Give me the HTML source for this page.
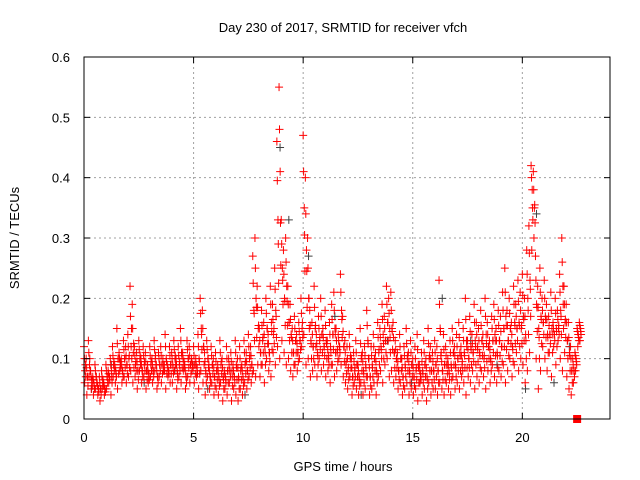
<!DOCTYPE html>
<html><head><meta charset="utf-8"><style>
html,body{margin:0;padding:0;background:#fff;}
svg{display:block;font-family:"Liberation Sans",sans-serif;}
</style></head><body>
<svg id="chart" width="640" height="480" viewBox="0 0 640 480">
<rect width="640" height="480" fill="#fff"/>
<text x="343" y="32" font-size="13" text-anchor="middle">Day 230 of 2017, SRMTID for receiver vfch</text>
<text transform="translate(19,238) rotate(-90)" font-size="13" text-anchor="middle">SRMTID / TECUs</text>
<text x="343" y="471" font-size="13" text-anchor="middle">GPS time / hours</text>
<g id="grid"></g>
<g id="marks-gray"></g>
<g id="marks"></g>
<g id="axes"></g>
</svg>
<script>
const xTicks=[0,5,10,15,20];
const yTicks=[0,0.1,0.2,0.3,0.4,0.5,0.6];
const yTickLabels=["0","0.1","0.2","0.3","0.4","0.5","0.6"];
const step=0.1;
const seriesHigh=[.12,.10,.13,.08,.07,.09,.06,.07,.08,.06,
.09,.08,.10,.12,.09,.15,.11,.10,.13,.12,
.14,.22,.19,.12,.11,.13,.10,.12,.11,.09,
.12,.10,.13,.09,.11,.12,.10,.14,.09,.12,
.11,.13,.10,.12,.15,.11,.09,.13,.12,.10,
.12,.10,.14,.20,.18,.11,.13,.09,.12,.10,
.11,.09,.13,.10,.08,.12,.10,.11,.09,.13,
.10,.12,.09,.13,.11,.14,.12,.27,.30,.22,
.15,.18,.16,.20,.14,.22,.19,.25,.46,.55,
.33,.28,.30,.22,.19,.15,.17,.14,.16,.20,
.47,.40,.30,.18,.16,.22,.14,.17,.20,.15,
.18,.13,.16,.19,.21,.15,.14,.24,.17,.13,
.12,.14,.10,.11,.13,.09,.15,.11,.12,.18,
.10,.12,.14,.11,.16,.15,.19,.17,.22,.20,
.21,.16,.13,.11,.14,.10,.12,.15,.11,.13,
.10,.12,.14,.09,.11,.13,.10,.15,.12,.11,
.13,.12,.23,.11,.14,.12,.10,.13,.15,.12,
.14,.16,.12,.15,.20,.13,.17,.14,.19,.16,
.15,.18,.14,.20,.16,.13,.17,.19,.15,.18,
.17,.21,.25,.18,.20,.16,.22,.19,.23,.21,
.24,.20,.28,.32,.42,.41,.27,.22,.25,.20,
.23,.19,.17,.21,.16,.20,.18,.24,.30,.22,
.19,.16,.12,.10,.11,.15,.16];
const seriesMid=[.08,.07,.09,.06,.06,.07,.05,.05,.06,.05,
.07,.07,.08,.09,.08,.10,.09,.08,.10,.09,
.10,.12,.11,.09,.08,.10,.08,.09,.08,.07,
.09,.08,.10,.07,.09,.09,.08,.10,.08,.09,
.09,.10,.08,.09,.11,.09,.07,.10,.09,.09,
.09,.08,.10,.15,.12,.08,.10,.07,.09,.07,
.08,.07,.09,.07,.07,.08,.08,.08,.07,.09,
.07,.08,.07,.09,.08,.10,.09,.18,.20,.15,
.11,.13,.12,.15,.11,.16,.14,.18,.33,.41,
.25,.20,.22,.16,.14,.11,.13,.11,.13,.15,
.35,.28,.20,.13,.12,.15,.11,.13,.14,.12,
.13,.10,.12,.14,.15,.11,.12,.18,.12,.09,
.08,.10,.07,.08,.09,.07,.10,.08,.09,.13,
.07,.09,.10,.08,.11,.12,.14,.13,.16,.15,
.15,.11,.10,.08,.10,.07,.09,.10,.08,.09,
.07,.08,.09,.07,.08,.09,.07,.10,.08,.08,
.09,.08,.15,.08,.09,.09,.08,.09,.11,.09,
.10,.11,.09,.11,.13,.10,.12,.11,.13,.12,
.11,.13,.10,.14,.12,.10,.13,.14,.11,.13,
.12,.15,.17,.13,.15,.12,.16,.15,.16,.15,
.17,.14,.20,.23,.38,.35,.19,.15,.17,.16,
.17,.14,.14,.15,.14,.15,.15,.18,.22,.16,
.13,.11,.08,.08,.10,.14,.15];
const seriesLow=[.06,.04,.07,.05,.04,.05,.04,.03,.05,.04,
.05,.06,.04,.07,.06,.05,.08,.06,.07,.06,
.07,.08,.06,.07,.05,.08,.06,.07,.05,.06,
.07,.06,.08,.05,.07,.06,.08,.05,.07,.06,
.06,.08,.05,.07,.06,.08,.05,.07,.06,.08,
.06,.07,.05,.08,.06,.04,.07,.05,.06,.04,
.05,.04,.06,.03,.05,.04,.06,.03,.05,.04,
.03,.05,.04,.06,.05,.07,.06,.08,.07,.09,
.07,.09,.06,.10,.08,.07,.11,.09,.12,.10,
.13,.11,.09,.10,.08,.07,.09,.08,.10,.12,
.14,.09,.10,.07,.08,.09,.07,.10,.08,.09,
.07,.08,.06,.09,.07,.08,.10,.09,.07,.06,
.05,.07,.04,.06,.05,.04,.06,.04,.05,.07,
.04,.05,.06,.04,.07,.08,.06,.09,.10,.07,
.08,.06,.07,.05,.06,.04,.05,.06,.04,.05,
.04,.05,.03,.06,.04,.05,.03,.06,.04,.05,
.05,.04,.06,.05,.04,.06,.05,.04,.07,.05,
.06,.05,.07,.06,.04,.07,.06,.08,.05,.07,
.06,.08,.07,.05,.08,.06,.09,.07,.06,.08,
.07,.09,.06,.08,.10,.07,.09,.11,.08,.10,
.09,.06,.08,.11,.28,.30,.10,.05,.08,.12,
.10,.08,.11,.07,.12,.09,.13,.10,.08,.11,
.07,.05,.04,.06,.08,.12,.13];
const grayTimes=[0.3,1.2,2.7,4.1,5.6,7.3,8.9,9.3,10.2,11.4,12.6,13.8,14.9,16.3,17.6,18.8,20.1,20.6,21.4,22.1];
const grayValues=[.05,.09,.06,.08,.05,.04,.45,.33,.27,.17,.04,.13,.06,.20,.13,.09,.05,.34,.06,.12];
const zeroMarker=[22.5,0];

const L=84,R=610,T=57,B=419,XMAX=24,YMAX=0.6;
const sx=v=>L+(v/XMAX)*(R-L);
const sy=v=>B-(v/YMAX)*(B-T);
const NS="http://www.w3.org/2000/svg";
function mk(tag,attrs,parent){const e=document.createElementNS(NS,tag);for(const k in attrs)e.setAttribute(k,attrs[k]);parent.appendChild(e);return e;}
const grid=document.getElementById('grid'),axes=document.getElementById('axes');
const marks=document.getElementById('marks'),marksG=document.getElementById('marks-gray');
xTicks.forEach(t=>{const x=sx(t);
 const g=mk('line',{x1:x,x2:x,y1:T,y2:B,stroke:'#a0a0a0','stroke-dasharray':'2,3','stroke-width':1},grid);
 
 mk('line',{x1:x,x2:x,y1:B,y2:B-6,stroke:'#000'},axes);mk('line',{x1:x,x2:x,y1:T,y2:T+6,stroke:'#000'},axes);
 const lb=mk('text',{x:x,y:B+23,'font-size':13,'text-anchor':'middle'},axes);lb.textContent=String(t);
 });
yTicks.forEach((t,i)=>{const y=sy(t);
 const g=mk('line',{x1:L,x2:R,y1:y,y2:y,stroke:'#a0a0a0','stroke-dasharray':'2,3','stroke-width':1},grid);
 
 mk('line',{x1:L,x2:L+6,y1:y,y2:y,stroke:'#000'},axes);mk('line',{x1:R,x2:R-6,y1:y,y2:y,stroke:'#000'},axes);
 const lb=mk('text',{x:L-14,y:y+5,'font-size':13,'text-anchor':'end'},axes);lb.textContent=yTickLabels[i];
 });
const fr=mk('rect',{x:L,y:T,width:R-L,height:B-T,fill:'none',stroke:'#000','stroke-width':1},axes);

function plus(x,y,col,parent){const p=mk('path',{d:`M${x-4},${y}h8M${x},${y-4}v8`,stroke:col,'stroke-width':1,fill:'none'},parent);
 }
grayTimes.forEach((t,i)=>plus(sx(t)+1,sy(grayValues[i]),'#404040',marksG));
seriesHigh.forEach((v,i)=>plus(sx(i*step),sy(v),'#ff0000',marks));
seriesMid.forEach((v,i)=>plus(sx(i*step+0.05),sy(v),'#ff0000',marks));
seriesLow.forEach((v,i)=>plus(sx(i*step+0.03),sy(v),'#ff0000',marks));
seriesMid.forEach((v,i)=>plus(sx(i*step+0.08),sy((v+seriesLow[i])/2),'#ff0000',marks));
seriesHigh.forEach((v,i)=>plus(sx(i*step+0.02),sy((v+seriesMid[i])/2),'#ff0000',marks));
seriesHigh.forEach((v,i)=>plus(sx(i*step+0.065),sy((v+seriesLow[i])/2),'#ff0000',marks));
const zm=mk('rect',{x:sx(zeroMarker[0])-4,y:sy(zeroMarker[1])-4,width:8,height:8,fill:'#ff0000'},marks);

</script>
</body></html>
